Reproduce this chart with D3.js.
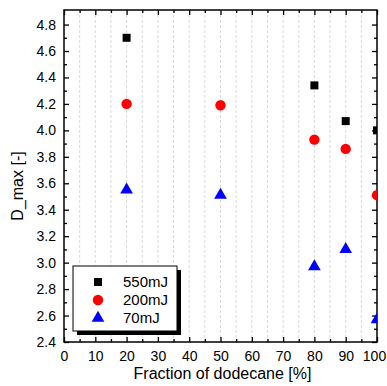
<!DOCTYPE html>
<html>
<head>
<meta charset="utf-8">
<script src="https://cdn.jsdelivr.net/npm/d3@7"></script>
<style>
  body { margin: 0; background: #fff; }
  text { font-family: "Liberation Sans", Arial, sans-serif; }
</style>
</head>
<body>
<svg id="chart" width="387" height="386"></svg>
<script>
// fraction of dodecane [%]
const fractions = [20, 50, 80, 90, 100];
const e550 = [4.70, null, 4.34, 4.07, 4.00];
const e200 = [4.20, 4.19, 3.93, 3.86, 3.51];
const e70 = [3.55, 3.51, 2.97, 3.10, 2.57];
const seriesNames = ["550mJ", "200mJ", "70mJ"];
const xTicks = [0, 10, 20, 30, 40, 50, 60, 70, 80, 90, 100];
const yTicks = [2.4, 2.6, 2.8, 3.0, 3.2, 3.4, 3.6, 3.8, 4.0, 4.2, 4.4, 4.6, 4.8];

const margin = { top: 10, right: 10, bottom: 44, left: 64 };
const width = 387 - margin.left - margin.right;
const height = 386 - margin.top - margin.bottom;

const svg = d3.select("#chart")
  .append("g")
  .attr("transform", "translate(" + margin.left + "," + margin.top + ")");

const x = d3.scaleLinear().domain([0, 100]).range([0, width]);
const y = d3.scaleLinear().domain([2.4, 4.91]).range([height, 0]);

// vertical dashed grid every 5
svg.append("g")
  .selectAll("line")
  .data(d3.range(5, 100, 5))
  .enter()
  .append("line")
  .attr("x1", d => x(d)).attr("x2", d => x(d))
  .attr("y1", 0).attr("y2", height)
  .attr("stroke", "#cfcfcf")
  .attr("stroke-width", 0.8)
  .attr("stroke-dasharray", "3,2");

// axes with inward ticks, mirrored on top/right
function drawAxis(axis, transform) {
  const g = svg.append("g").attr("transform", transform).call(axis);
  g.select(".domain").remove();
  g.selectAll("line").attr("stroke", "#000").attr("stroke-width", 1.3);
  return g;
}

const xMinor = d3.range(5, 100, 10);
const yMinor = d3.range(2.5, 4.85, 0.2);

drawAxis(d3.axisBottom(x).tickValues(xTicks).tickSize(-5).tickPadding(9).tickFormat(d3.format("d")), "translate(0," + height + ")")
  .selectAll("text").attr("font-size", 14).attr("fill", "#000")
  .attr("dx", d => d === 100 ? -3 : 0);
drawAxis(d3.axisBottom(x).tickValues(xMinor).tickSize(-3).tickFormat(""), "translate(0," + height + ")");
drawAxis(d3.axisTop(x).tickValues(xTicks).tickSize(-5).tickFormat(""), "translate(0,0)");
drawAxis(d3.axisTop(x).tickValues(xMinor).tickSize(-3).tickFormat(""), "translate(0,0)");

drawAxis(d3.axisLeft(y).tickValues(yTicks).tickSize(-5).tickPadding(8).tickFormat(d3.format(".1f")), "translate(0,0)")
  .selectAll("text").attr("font-size", 14).attr("fill", "#000");
drawAxis(d3.axisLeft(y).tickValues(yMinor).tickSize(-3).tickFormat(""), "translate(0,0)");
drawAxis(d3.axisRight(y).tickValues(yTicks).tickSize(-5).tickFormat(""), "translate(" + width + ",0)");
drawAxis(d3.axisRight(y).tickValues(yMinor).tickSize(-3).tickFormat(""), "translate(" + width + ",0)");

// frame
svg.append("rect")
  .attr("width", width).attr("height", height)
  .attr("fill", "none").attr("stroke", "#000").attr("stroke-width", 1.5);

// markers
svg.append("clipPath").attr("id", "plotclip")
  .append("rect").attr("width", width).attr("height", height);

const series = [
  { values: e550, color: "#000000", sym: d3.symbolSquare, size: 64 },
  { values: e200, color: "#ff0000", sym: d3.symbolCircle, size: 85 },
  { values: e70, color: "#0000ff", sym: d3.symbolTriangle, size: 70 }
];

const marks = svg.append("g").attr("clip-path", "url(#plotclip)");
series.forEach(s => {
  const pts = fractions.map((f, i) => ({ f: f, v: s.values[i] })).filter(d => d.v != null);
  marks.selectAll(null)
    .data(pts)
    .enter()
    .append("path")
    .attr("d", d3.symbol().type(s.sym).size(s.size))
    .attr("transform", d => "translate(" + x(d.f) + "," + y(d.v) + ")")
    .attr("fill", s.color);
});

// axis titles
svg.append("text")
  .attr("x", width / 2 + 2).attr("y", height + 37)
  .attr("text-anchor", "middle").attr("font-size", 16)
  .text("Fraction of dodecane [%]");

svg.append("text")
  .attr("transform", "translate(-41," + (height / 2 + 10) + ")rotate(-90)")
  .attr("text-anchor", "middle").attr("font-size", 16)
  .text("D_max [-]");

// legend with shadow
const lg = svg.append("g").attr("transform", "translate(9,256)");
lg.append("rect").attr("x", 4).attr("y", 4).attr("width", 104).attr("height", 65).attr("fill", "#000");
lg.append("rect").attr("width", 104).attr("height", 65).attr("fill", "#fff").attr("stroke", "#000").attr("stroke-width", 1);
series.forEach((s, i) => {
  lg.append("path")
    .attr("d", d3.symbol().type(s.sym).size(s.size))
    .attr("transform", "translate(25," + (16 + i * 18) + ")")
    .attr("fill", s.color);
  lg.append("text")
    .attr("x", 50).attr("y", 16 + i * 18)
    .attr("dy", "0.36em")
    .attr("font-size", 15)
    .text(seriesNames[i]);
});
</script>
</body>
</html>
